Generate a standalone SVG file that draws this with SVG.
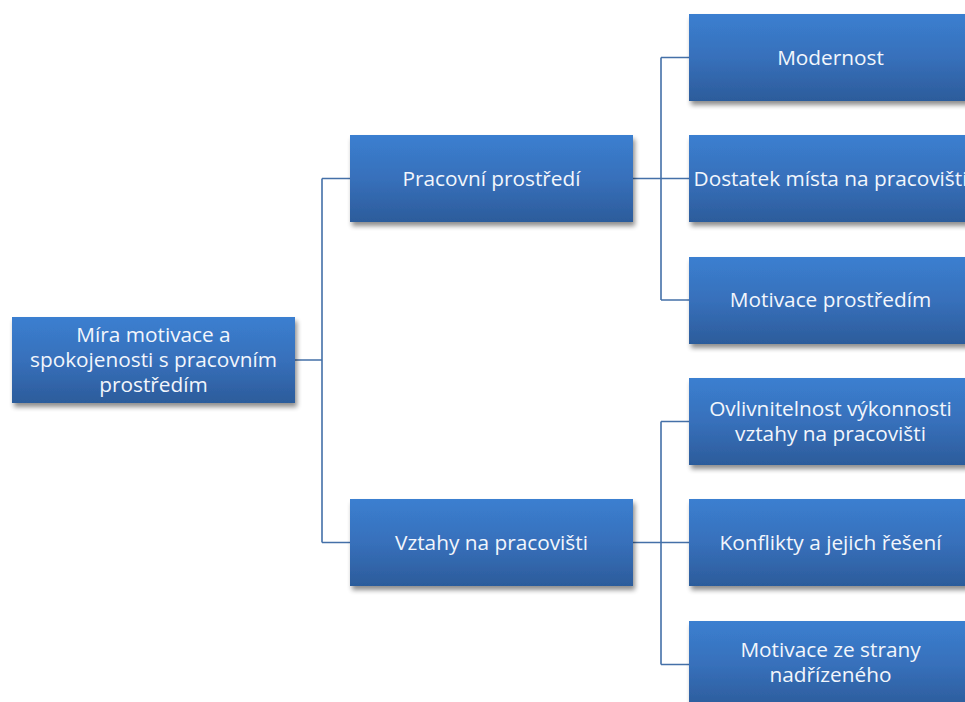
<svg xmlns="http://www.w3.org/2000/svg" width="965" height="702" viewBox="0 0 965 702">
<defs>
<linearGradient id="g" x1="0" y1="0" x2="0" y2="1">
<stop offset="0" stop-color="#3b7fd0"/>
<stop offset="0.5" stop-color="#3770bb"/>
<stop offset="1" stop-color="#2c5c9b"/>
</linearGradient>
<filter id="sh" x="-10%" y="-10%" width="125%" height="135%">
<feGaussianBlur in="SourceAlpha" stdDeviation="2.5"/>
<feOffset dx="2" dy="4" result="b"/>
<feComponentTransfer><feFuncA type="linear" slope="0.45"/></feComponentTransfer>
<feMerge><feMergeNode/><feMergeNode in="SourceGraphic"/></feMerge>
</filter>
</defs>
<style>
.box{fill:url(#g);filter:url(#sh)}
.t{font-family:"Open Sans","Liberation Sans",Arial,sans-serif;font-size:20.8px;fill:#f2f6fc;text-anchor:middle}
.c{fill:none;stroke:#4470a8;stroke-width:1.6}
</style>
<rect width="965" height="702" fill="#ffffff"/>
<g id="connectors">
<path class="c" d="M295 360 H322 M322 178.5 V542.5 M322 178.5 H350 M322 542.5 H350"/>
<path class="c" d="M633 178.5 H689 M661 57.5 V300 M661 57.5 H689 M661 300 H689"/>
<path class="c" d="M633 542.5 H689 M661 421.5 V664.5 M661 421.5 H689 M661 664.5 H689"/>
</g>
<g id="root">
<rect class="box" x="12" y="317" width="283" height="86"/>
<text class="t" x="153.5" y="342">Míra motivace a</text>
<text class="t" x="153.5" y="367">spokojenosti s pracovním</text>
<text class="t" x="153.5" y="392">prostředím</text>
</g>
<g id="pracovni">
<rect class="box" x="350" y="135" width="283" height="87"/>
<text class="t" x="491.5" y="185.5">Pracovní prostředí</text>
</g>
<g id="vztahy">
<rect class="box" x="350" y="499" width="283" height="87"/>
<text class="t" x="491.5" y="549.5">Vztahy na pracovišti</text>
</g>
<g id="modernost">
<rect class="box" x="689" y="14" width="283" height="87"/>
<text class="t" x="830.5" y="64.5">Modernost</text>
</g>
<g id="dostatek">
<rect class="box" x="689" y="135" width="283" height="87"/>
<text class="t" x="830.5" y="185.5">Dostatek místa na pracovišti</text>
</g>
<g id="motivace-prostredim">
<rect class="box" x="689" y="257" width="283" height="87"/>
<text class="t" x="830.5" y="307">Motivace prostředím</text>
</g>
<g id="ovlivnitelnost">
<rect class="box" x="689" y="378" width="283" height="87"/>
<text class="t" x="830.5" y="416">Ovlivnitelnost výkonnosti</text>
<text class="t" x="830.5" y="441">vztahy na pracovišti</text>
</g>
<g id="konflikty">
<rect class="box" x="689" y="499" width="283" height="87"/>
<text class="t" x="830.5" y="549.5">Konflikty a jejich řešení</text>
</g>
<g id="motivace-nadrizeny">
<rect class="box" x="689" y="621" width="283" height="87"/>
<text class="t" x="830.5" y="657">Motivace ze strany</text>
<text class="t" x="830.5" y="682">nadřízeného</text>
</g>
</svg>
